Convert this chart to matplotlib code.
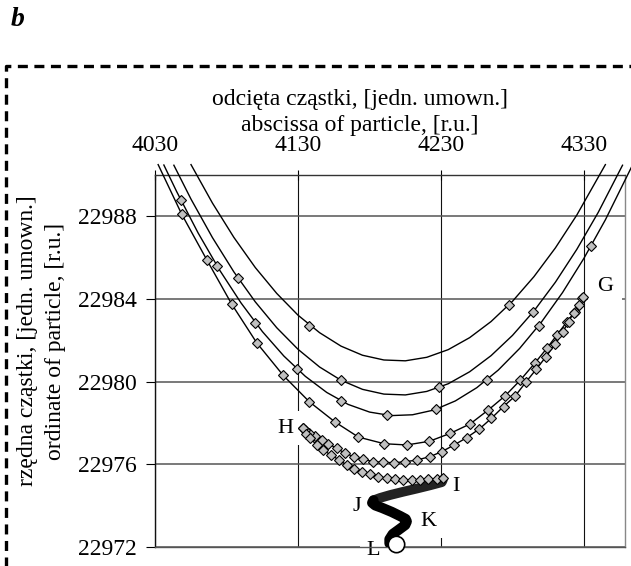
import matplotlib
matplotlib.use('Agg')
import matplotlib.pyplot as plt
from matplotlib.lines import Line2D
from matplotlib.patches import Rectangle

plt.rcParams['font.family'] = ['Liberation Serif', 'DejaVu Serif']
plt.rcParams['lines.scale_dashes'] = False

# ---- axes / ticks ----
x_ticks = [4030, 4130, 4230, 4330]
y_ticks = [22972, 22976, 22980, 22984, 22988]
y_tick_labels = ['22972', '22976', '22980', '22984', '22988']
x_title = ['odcięta cząstki, [jedn. umown.]', 'abscissa of particle, [r.u.]']
y_title = ['rzędna cząstki, [jedn. umown.]', 'ordinate of particle, [r.u.]']

# ---- guide curves (lines) ----
A_x = [4055, 4070, 4085, 4100, 4115, 4130, 4145, 4160, 4175, 4190, 4205, 4220,
       4235, 4250, 4265, 4280, 4295, 4310, 4325, 4345]
A_y = [22990.50, 22988.64, 22986.98, 22985.52, 22984.27, 22983.21, 22982.37,
       22981.72, 22981.28, 22981.05, 22981.01, 22981.18, 22981.55, 22982.13,
       22982.91, 22983.89, 22985.08, 22986.47, 22988.06, 22990.50]
B_x = [4043, 4055, 4070, 4085, 4100, 4115, 4130, 4145, 4160, 4175, 4190, 4205,
       4220, 4235, 4250, 4265, 4280, 4295, 4310, 4325, 4340, 4357]
B_y = [22990.47, 22988.83, 22986.97, 22985.31, 22983.86, 22982.61, 22981.56,
       22980.71, 22980.07, 22979.63, 22979.40, 22979.36, 22979.53, 22979.90,
       22980.48, 22981.26, 22982.24, 22983.42, 22984.81, 22986.40, 22988.19,
       22990.47]
C_x = [4036, 4045, 4060, 4075, 4090, 4105, 4120, 4135, 4150, 4165, 4180, 4195,
       4210, 4225, 4240, 4255, 4270, 4285, 4300, 4315, 4330, 4345, 4364]
C_y = [22990.48, 22989.19, 22987.19, 22985.40, 22983.81, 22982.42, 22981.24,
       22980.26, 22979.48, 22978.90, 22978.53, 22978.36, 22978.40, 22978.63,
       22979.07, 22979.71, 22980.56, 22981.61, 22982.86, 22984.31, 22985.97,
       22987.83, 22990.48]

# ---- diamond points ----
A_pts_x = [4137.8, 4277.2]
A_pts_y = [22982.70, 22983.72]
B_pts_x = [4088.1, 4159.8, 4228.7, 4294.3]
B_pts_y = [22985.02, 22980.10, 22979.73, 22983.35]
C_pts_x = [4047.8, 4073.0, 4099.8, 4129.0, 4159.8, 4192.5, 4226.6, 4262.1, 4298.2, 4334.9]
C_pts_y = [22988.77, 22985.60, 22982.82, 22980.63, 22979.06, 22978.38, 22978.67,
           22980.10, 22982.70, 22986.56]
# trajectory start -> G
D_start = (4032, 22990.5)
D_x = [4048.5, 4066.0, 4083.5, 4101.0, 4119.6, 4137.8, 4155.8, 4172.2, 4190.2,
       4206.0, 4221.9, 4236.4, 4250.4, 4263.2, 4274.9, 4285.4, 4295.9, 4304.1,
       4311.1, 4318.1, 4323.9, 4328.6]
D_y = [22988.10, 22985.90, 22983.75, 22981.88, 22980.30, 22979.03, 22978.05,
       22977.32, 22977.00, 22976.94, 22977.12, 22977.50, 22977.96, 22978.64,
       22979.32, 22980.07, 22980.92, 22981.62, 22982.26, 22982.90, 22983.39,
       22984.03]
# G -> H
E_x = [4329.3, 4326.2, 4322.7, 4319.2, 4315.3, 4309.9, 4303.1, 4296.6, 4289.6,
       4281.9, 4273.7, 4265.1, 4256.9, 4248.1, 4239.2, 4230.6, 4222.4, 4213.1,
       4204.9, 4197.2, 4189.7, 4182.7, 4175.7, 4169.2, 4162.8, 4157.0, 4151.2,
       4146.5, 4141.8, 4137.8, 4134.8, 4133.7]
E_y = [22984.11, 22983.71, 22983.34, 22982.90, 22982.42, 22981.82, 22981.18,
       22980.60, 22980.00, 22979.31, 22978.80, 22978.22, 22977.72, 22977.30,
       22976.94, 22976.62, 22976.38, 22976.21, 22976.13, 22976.08, 22976.10,
       22976.13, 22976.24, 22976.37, 22976.54, 22976.78, 22976.99, 22977.18,
       22977.38, 22977.53, 22977.68, 22977.75]
# H -> I
F_x = [4133.7, 4135.5, 4138.3, 4143.0, 4147.6, 4152.8, 4158.9, 4164.0, 4169.2,
       4174.5, 4180.4, 4186.2, 4192.0, 4197.9, 4203.7, 4209.6, 4215.4, 4221.2,
       4227.1, 4231.3]
F_y = [22977.75, 22977.48, 22977.26, 22976.94, 22976.70, 22976.45, 22976.21,
       22975.97, 22975.76, 22975.65, 22975.54, 22975.41, 22975.33, 22975.28,
       22975.25, 22975.25, 22975.25, 22975.28, 22975.31, 22975.33]
# I -> J -> K -> L (dense, merged band)
IJ_x = [4231.3, 4230.5, 4222.4, 4213.0, 4203.7, 4194.4, 4187.4, 4182.7]
IJ_y = [22975.26, 22975.14, 22974.99, 22974.83, 22974.68, 22974.52, 22974.38, 22974.26]
JL_x = [4182.7, 4181.8, 4183.9, 4188.6, 4195.5, 4201.4, 4205.2, 4206.0, 4204.9,
        4200.2, 4196.2, 4193.9, 4193.9]
JL_y = [22974.26, 22974.14, 22974.02, 22973.90, 22973.70, 22973.50, 22973.36,
        22973.24, 22973.07, 22972.83, 22972.63, 22972.38, 22972.18]
L_pt = (4198.6, 22972.15)

# point labels
lab_txt = ['G', 'H', 'I', 'J', 'K', 'L']
lab_x = [4344.9, 4120.8, 4240.3, 4171.2, 4221.0, 4182.4]
lab_y = [22984.62, 22977.76, 22974.95, 22973.94, 22973.26, 22971.83]
lab_pad = [0.4, 0.35, 0.25, 0.25, 0.35, 0.3]

fig = plt.figure(figsize=(6.31, 5.66), dpi=100)
ax = fig.add_axes([0.2461, 0.0334, 0.745, 0.6575])
ax.set_xlim(4030, 4359)
ax.set_ylim(22972, 22990)

ax.set_axisbelow(True)
ax.xaxis.grid(True, color='#111111', lw=0.8)
ax.yaxis.grid(True, color='#555555', lw=1.1)

for sp, c in (('top', '#333333'), ('left', '#111111'), ('right', '#888888'), ('bottom', '#555555')):
    ax.spines[sp].set_color(c)
    ax.spines[sp].set_linewidth(1.0)

ax.xaxis.tick_top()
ax.set_xticks(x_ticks)
ax.set_xticklabels([str(v) for v in x_ticks])
ax.set_yticks(y_ticks)
ax.set_yticklabels(y_tick_labels)
ax.tick_params(axis='x', direction='inout', length=7, width=0.8, pad=10, labelsize=17)
ax.tick_params(axis='y', direction='out', length=6.2, width=0.8, pad=7.2, labelsize=17)

line_kw = dict(color='black', lw=1.0, clip_on=False, zorder=4)
ax.plot(A_x, A_y, **line_kw)
ax.plot(B_x, B_y, **line_kw)
ax.plot(C_x, C_y, **line_kw)
ax.plot([D_start[0]] + D_x, [D_start[1]] + D_y, **line_kw)
ax.plot(E_x, E_y, **line_kw)
ax.plot(F_x, F_y, **line_kw)

ax.plot(IJ_x, IJ_y, color='#222222', lw=7.0, solid_capstyle='round',
        solid_joinstyle='round', zorder=4.5)
ax.plot(JL_x, JL_y, color='black', lw=7.4, solid_capstyle='round',
        solid_joinstyle='round', zorder=4.5)

mk = dict(ls='none', marker='D', ms=4.7, mfc='#c0c0c0', mec='black', mew=0.8,
          clip_on=False, zorder=5)
for px, py in ((A_pts_x, A_pts_y), (B_pts_x, B_pts_y), (C_pts_x, C_pts_y),
               (D_x, D_y), (E_x, E_y), (F_x, F_y)):
    ax.plot(px, py, **mk)

ax.plot([L_pt[0]], [L_pt[1]], ls='none', marker='o', ms=11.8, mfc='white',
        mec='black', mew=1.2, clip_on=False, zorder=6)

# white gap in the 4230 gridline between the band tip and label K
ax.add_patch(Rectangle((4226, 22973.95), 10, 1.15, fc='white', ec='none', zorder=1.5))

for t, x, y, p in zip(lab_txt, lab_x, lab_y, lab_pad):
    ax.text(x, y, t, fontsize=16, ha='center', va='center', zorder=2,
            bbox=dict(boxstyle='square,pad=%g' % p, fc='white', ec='none'))

fig.text(360 / 631, 1 - 99 / 566, x_title[0], fontsize=17, ha='center', va='center')
fig.text(360 / 631, 1 - 126 / 566, x_title[1], fontsize=17, ha='center', va='center')
fig.text(28 / 631, 1 - 341 / 566, y_title[0], fontsize=17, ha='center', va='center', rotation=90)
fig.text(55 / 631, 1 - 341 / 566, y_title[1], fontsize=17, ha='center', va='center', rotation=90)
fig.text(18 / 631, 1 - 20 / 566, 'b', fontsize=20, fontweight='bold', fontstyle='italic',
         ha='center', va='center')

border = Line2D([6 / 631, 6 / 631, 1.02], [-0.02, 1 - 66 / 566, 1 - 66 / 566],
                transform=fig.transFigure, color='black', lw=2.4,
                linestyle=(0, (7.2, 4.7)), clip_on=False)
fig.add_artist(border)

fig.savefig('out.png', dpi=100)
